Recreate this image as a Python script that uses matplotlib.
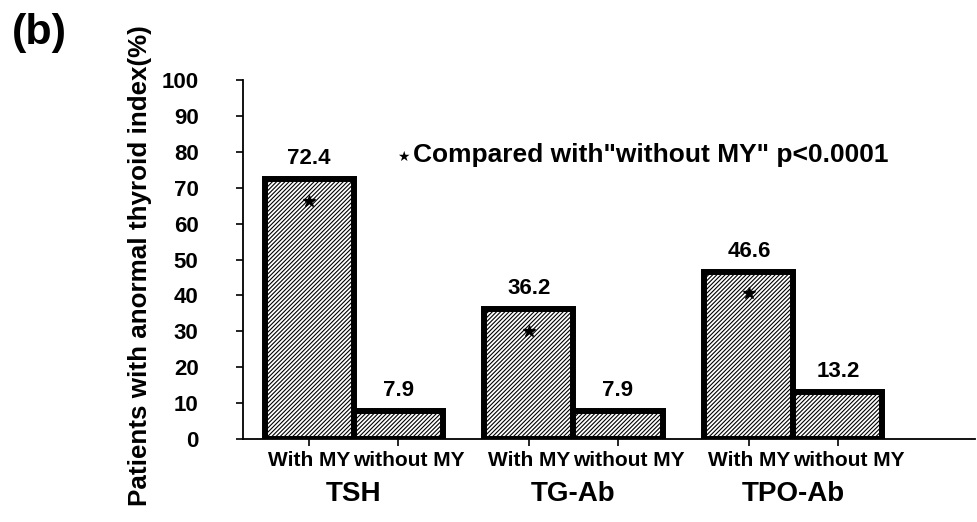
import numpy as np
import matplotlib
matplotlib.use('Agg')
import matplotlib.pyplot as plt
import matplotlib.transforms as mtransforms

plt.rcParams['font.family'] = ['Liberation Sans', 'DejaVu Sans']
plt.rcParams['font.weight'] = 'bold'
plt.rcParams['hatch.linewidth'] = 0.8

# Datos
grupos = ['TSH', 'TG-Ab', 'TPO-Ab']
con_my = [72.4, 36.2, 46.6]
sin_my = [7.9, 7.9, 13.2]
etiquetas_x = ['With MY', 'without MY']
yticks = list(range(0, 101, 10))

paso = 2.47          # separación entre grupos (en anchos de barra)
x_con = np.arange(len(grupos)) * paso
x_sin = x_con + 1.0

fig = plt.figure(figsize=(9.77, 5.22), dpi=100)
ax = fig.add_axes([243 / 977, 1 - 439 / 522, (975 - 243) / 977, (439 - 80) / 522])

for xs, vals in [(x_con, con_my), (x_sin, sin_my)]:
    ax.bar(xs, vals, width=1.0, color='white', edgecolor='black',
           hatch='////////', linewidth=4.3, zorder=2)
    for x, v in zip(xs, vals):
        ax.text(x, v + 2.8, f'{v:.1f}', ha='center', va='bottom',
                fontsize=16, fontweight='bold')

# estrellas dentro de las barras "With MY"
ax.plot(x_con, np.array(con_my) - 6, linestyle='none', marker='*',
        markersize=9, color='black', zorder=3)

ax.set_ylim(0, 100)
ax.set_xlim(-0.742, 7.48)
ax.set_yticks(yticks)
ax.set_yticklabels([str(t) for t in yticks], fontsize=16, fontweight='bold')
ax.tick_params(axis='y', direction='out', length=5, width=1.2, pad=27)

pos = np.sort(np.concatenate([x_con, x_sin]))
ax.set_xticks(pos)
ax.set_xticklabels(etiquetas_x * len(grupos), fontsize=15, fontweight='bold')
ax.tick_params(axis='x', direction='out', length=5, width=1.2, pad=4)

# las etiquetas "without MY" van algo desplazadas a la derecha
desp = mtransforms.ScaledTranslation(11 / 100, 0, fig.dpi_scale_trans)
for i, lab in enumerate(ax.get_xticklabels()):
    if i % 2 == 1:
        lab.set_transform(lab.get_transform() + desp)

for s in ['top', 'right']:
    ax.spines[s].set_visible(False)
for s in ['left', 'bottom']:
    ax.spines[s].set_linewidth(1.3)

# nombres de grupo
for x, g in zip(x_con + 0.5, grupos):
    ax.text(x, -0.152, g, transform=ax.get_xaxis_transform(), ha='center',
            va='center', fontsize=20, fontweight='bold')

fig.text(140 / 977, 1 - 266 / 522, 'Patients with anormal thyroid index(%)',
         rotation=90, ha='center', va='center', fontsize=18.7, fontweight='bold')
fig.text(12 / 977, 1 - 33 / 522, '(b)', ha='left', va='center',
         fontsize=31, fontweight='bold')

fig.text(403 / 977, 1 - 157 / 522, '★', ha='center', va='center',
         fontsize=10, family='DejaVu Sans')
fig.text(413 / 977, 1 - 155 / 522, 'Compared with"without MY" p<0.0001',
         ha='left', va='center', fontsize=19, fontweight='bold')

fig.savefig('out.png', dpi=100)
